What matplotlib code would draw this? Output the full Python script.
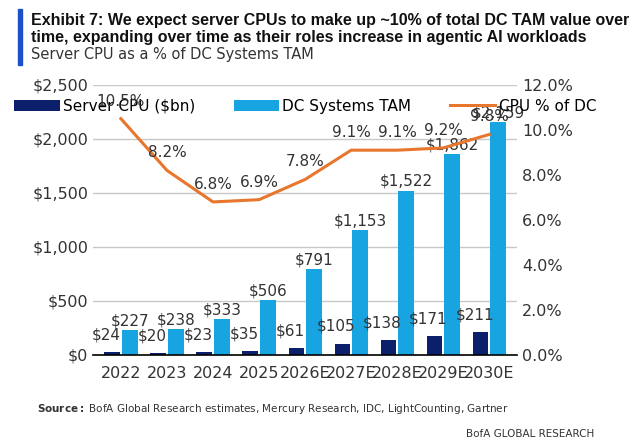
import matplotlib.pyplot as plt
import numpy as np

plt.rcParams['font.family'] = ['Liberation Sans Narrow', 'DejaVu Sans']

years = ["2022", "2023", "2024", "2025", "2026E", "2027E", "2028E", "2029E", "2030E"]
server_cpu = [24, 20, 23, 35, 61, 105, 138, 171, 211]
dc_tam = [227, 238, 333, 506, 791, 1153, 1522, 1862, 2159]
cpu_pct = [10.5, 8.2, 6.8, 6.9, 7.8, 9.1, 9.1, 9.2, 9.8]

dark = "#0b1f6b"
light = "#18a4e0"
orange = "#e8762c"
txt = "#333333"

fig = plt.figure(figsize=(6.39, 4.47), dpi=100)
ax = fig.add_axes([0.146, 0.206, 0.663, 0.604])
ax2 = ax.twinx()

x = np.arange(len(years))
w = 0.34
b1 = ax.bar(x - w / 2 - 0.02, server_cpu, w, color=dark, label="Server CPU ($bn)")
b2 = ax.bar(x + w / 2 + 0.02, dc_tam, w, color=light, label="DC Systems TAM")
for xi, v in zip(x, server_cpu):
    ax.text(xi - w / 2 - 0.15, v + 90, f"${v:,}", ha="center", va="bottom", fontsize=11, color=txt)
for xi, v in zip(x, dc_tam):
    ax.text(xi + w / 2 + 0.02, v + 15, f"${v:,}", ha="center", va="bottom", fontsize=11, color=txt)

ax.set_ylim(0, 2500)
ax.set_yticks(range(0, 2501, 500))
ax.set_yticklabels([f"${v:,}" for v in range(0, 2501, 500)])
ax.yaxis.grid(True, color="#c8c8c8", lw=1)
ax.set_axisbelow(True)
ax.set_xticks(x)
ax.set_xticklabels(years)
ax.set_xlim(-0.6, len(years) - 0.4)

ax2.plot(x, cpu_pct, color=orange, lw=2.2, label="CPU % of DC")
for xi, v in zip(x, cpu_pct):
    ax2.text(xi, v + 0.45, f"{v}%", ha="center", va="bottom", fontsize=11, color=txt)
ax2.set_ylim(0, 12)
ax2.set_yticks(range(0, 13, 2))
ax2.set_yticklabels([f"{v:.1f}%" for v in range(0, 13, 2)])

for a in (ax, ax2):
    for s in a.spines.values():
        s.set_visible(False)
    a.tick_params(length=0, labelsize=11.5, colors=txt)
ax.spines["bottom"].set_visible(True)
ax.spines["bottom"].set_color("black")
ax.spines["bottom"].set_linewidth(1.2)
ax.tick_params(axis="x", pad=8)

h = [b1, b2] + ax2.get_lines()
ax.legend(h, [a.get_label() for a in h], loc="upper center", bbox_to_anchor=(0.5, 1.0),
          ncol=3, frameon=False, fontsize=11, handlelength=3, columnspacing=2.5,
          handletextpad=0.2)

fig.patches.append(plt.Rectangle((0.028, 0.855), 0.007, 0.125, transform=fig.transFigure, color="#1a50c8"))
fig.text(0.048, 0.955, "Exhibit 7: We expect server CPUs to make up ~10% of total DC TAM value over",
         fontsize=11.5, fontweight="bold", va="center", color="#111111",
         family=['Liberation Sans', 'DejaVu Sans'])
fig.text(0.048, 0.915, "time, expanding over time as their roles increase in agentic AI workloads",
         fontsize=11.5, fontweight="bold", va="center", color="#111111",
         family=['Liberation Sans', 'DejaVu Sans'])
fig.text(0.048, 0.877, "Server CPU as a % of DC Systems TAM", fontsize=10.5, va="center", color="#333333")
fig.text(0.058, 0.085, r"$\bf{Source:}$ BofA Global Research estimates, Mercury Research, IDC, LightCounting, Gartner",
         fontsize=7.5, va="center", color="#333333")
fig.text(0.93, 0.028, "BofA GLOBAL RESEARCH", fontsize=7.5, ha="right", va="center", color="#333333")

fig.savefig("out.png", dpi=100)
